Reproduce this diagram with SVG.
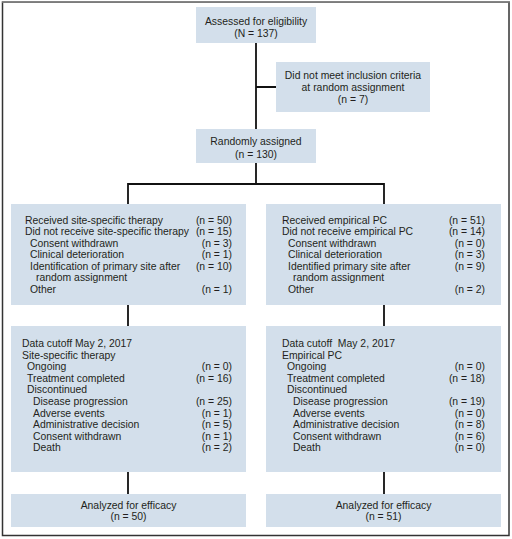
<svg xmlns="http://www.w3.org/2000/svg" width="512" height="539" viewBox="0 0 512 539">
<style>
.box{fill:#d3dfeb;}
text{font-family:"Liberation Sans",Arial,sans-serif;font-size:10.4px;fill:#231f20;}
.c{text-anchor:middle;}
.r{text-anchor:end;}
.ln{stroke:#111;stroke-width:1.8;fill:none;}
</style>
<rect x="0" y="0" width="512" height="539" fill="#fff"/>
<rect x="2.5" y="2" width="506.5" height="533.5" fill="none" stroke="#333" stroke-width="1.5"/>
<line x1="2" y1="1.8" x2="509.5" y2="1.8" stroke="#858585" stroke-width="1.8"/>
<g id="connectors">
<path class="ln" d="M256 43 V129 M256 87 H276 M256 163 V184 M128 184 H384 M128 183 V204 M384 183 V204 M128 305 V326 M384 305 V326 M128 472 V494 M384 472 V494"/>
</g>
<g id="assessed">
<rect class="box" x="196" y="7" width="120" height="36"/>
<text class="c" x="256" y="24.5">Assessed for eligibility</text>
<text class="c" x="256" y="37">(N = 137)</text>
</g>
<g id="excluded">
<rect class="box" x="276" y="62" width="154" height="50"/>
<text class="c" x="353" y="78.5">Did not meet inclusion criteria</text>
<text class="c" x="353" y="91">at random assignment</text>
<text class="c" x="353" y="103">(n = 7)</text>
</g>
<g id="randomized">
<rect class="box" x="196" y="129" width="120" height="34"/>
<text class="c" x="256" y="145">Randomly assigned</text>
<text class="c" x="256" y="158">(n = 130)</text>
</g>
<g id="alloc-left">
<rect class="box" x="11" y="204" width="235" height="101"/>
<text x="25" y="223.5">Received site-specific therapy</text><text class="r" x="232" y="223.5">(n = 50)</text>
<text x="25" y="235">Did not receive site-specific therapy</text><text class="r" x="232" y="235">(n = 15)</text>
<text x="30" y="246.5">Consent withdrawn</text><text class="r" x="232" y="246.5">(n = 3)</text>
<text x="30" y="258">Clinical deterioration</text><text class="r" x="232" y="258">(n = 1)</text>
<text x="30" y="269.5">Identification of primary site after</text><text class="r" x="232" y="269.5">(n = 10)</text>
<text x="36" y="281">random assignment</text>
<text x="30" y="292.5">Other</text><text class="r" x="232" y="292.5">(n = 1)</text>
</g>
<g id="alloc-right">
<rect class="box" x="266" y="204" width="235" height="101"/>
<text x="282" y="223.5">Received empirical PC</text><text class="r" x="485" y="223.5">(n = 51)</text>
<text x="282" y="235">Did not receive empirical PC</text><text class="r" x="485" y="235">(n = 14)</text>
<text x="288" y="246.5">Consent withdrawn</text><text class="r" x="485" y="246.5">(n = 0)</text>
<text x="288" y="258">Clinical deterioration</text><text class="r" x="485" y="258">(n = 3)</text>
<text x="288" y="269.5">Identified primary site after</text><text class="r" x="485" y="269.5">(n = 9)</text>
<text x="293" y="281">random assignment</text>
<text x="288" y="292.5">Other</text><text class="r" x="485" y="292.5">(n = 2)</text>
</g>
<g id="followup-left">
<rect class="box" x="11" y="326" width="235" height="146"/>
<text x="22" y="347">Data cutoff May 2, 2017</text>
<text x="22" y="358.6">Site-specific therapy</text>
<text x="27" y="370.2">Ongoing</text><text class="r" x="232" y="370.2">(n = 0)</text>
<text x="27" y="381.8">Treatment completed</text><text class="r" x="232" y="381.8">(n = 16)</text>
<text x="27" y="393.4">Discontinued</text>
<text x="33" y="405">Disease progression</text><text class="r" x="232" y="405">(n = 25)</text>
<text x="33" y="416.6">Adverse events</text><text class="r" x="232" y="416.6">(n = 1)</text>
<text x="33" y="428.2">Administrative decision</text><text class="r" x="232" y="428.2">(n = 5)</text>
<text x="33" y="439.8">Consent withdrawn</text><text class="r" x="232" y="439.8">(n = 1)</text>
<text x="33" y="451.4">Death</text><text class="r" x="232" y="451.4">(n = 2)</text>
</g>
<g id="followup-right">
<rect class="box" x="266" y="326" width="235" height="146"/>
<text x="282" y="347" xml:space="preserve">Data cutoff  May 2, 2017</text>
<text x="282" y="358.6">Empirical PC</text>
<text x="287" y="370.2">Ongoing</text><text class="r" x="485" y="370.2">(n = 0)</text>
<text x="287" y="381.8">Treatment completed</text><text class="r" x="485" y="381.8">(n = 18)</text>
<text x="287" y="393.4">Discontinued</text>
<text x="293" y="405">Disease progression</text><text class="r" x="485" y="405">(n = 19)</text>
<text x="293" y="416.6">Adverse events</text><text class="r" x="485" y="416.6">(n = 0)</text>
<text x="293" y="428.2">Administrative decision</text><text class="r" x="485" y="428.2">(n = 8)</text>
<text x="293" y="439.8">Consent withdrawn</text><text class="r" x="485" y="439.8">(n = 6)</text>
<text x="293" y="451.4">Death</text><text class="r" x="485" y="451.4">(n = 0)</text>
</g>
<g id="analysis-left">
<rect class="box" x="11" y="494" width="235" height="33"/>
<text class="c" x="128.5" y="508.5">Analyzed for efficacy</text>
<text class="c" x="128.5" y="519.5">(n = 50)</text>
</g>
<g id="analysis-right">
<rect class="box" x="266" y="494" width="235" height="33"/>
<text class="c" x="383.5" y="508.5">Analyzed for efficacy</text>
<text class="c" x="383.5" y="519.5">(n = 51)</text>
</g>
</svg>
